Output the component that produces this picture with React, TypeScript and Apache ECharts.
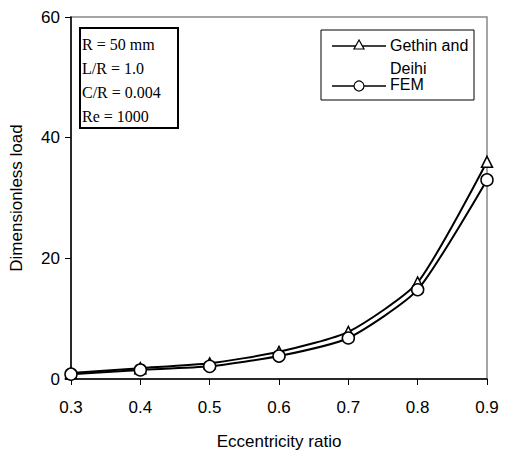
import React, { useEffect, useRef } from "react";
import * as echarts from "echarts";

const categories = ["0.3", "0.4", "0.5", "0.6", "0.7", "0.8", "0.9"];
const gethinValues = [1.0, 1.8, 2.6, 4.5, 7.8, 16.0, 36.0];
const femValues = [0.8, 1.5, 2.1, 3.8, 6.8, 14.8, 33.0];
const yTicks = [0, 20, 40, 60];
const infoLines = ["R = 50 mm", "L/R = 1.0", "C/R = 0.004", "Re = 1000"];

export default function App() {
  const ref = useRef<HTMLDivElement>(null);
  useEffect(() => {
    if (!ref.current) return;
    const chart = echarts.init(ref.current, null, { renderer: "svg" });
    const sans = "Liberation Sans, Arial, sans-serif";
    const serif = "Liberation Serif, Times New Roman, serif";
    chart.setOption({
      animation: false,
      backgroundColor: "#fff",
      grid: {
        left: 67,
        right: 44,
        top: 17,
        bottom: 74,
        show: true,
        borderColor: "#888",
        borderWidth: 1.5,
      },
      xAxis: {
        type: "category",
        data: categories,
        boundaryGap: false,
        name: "Eccentricity ratio",
        nameLocation: "middle",
        nameGap: 54,
        nameTextStyle: { fontFamily: sans, fontSize: 17, color: "#000" },
        axisLine: { lineStyle: { color: "#000", width: 1.5 } },
        axisTick: { show: true, length: 6, inside: false, lineStyle: { color: "#000" } },
        axisLabel: { fontFamily: sans, fontSize: 17, color: "#000", margin: 20 },
        splitLine: { show: false },
      },
      yAxis: {
        type: "value",
        min: yTicks[0],
        max: yTicks[yTicks.length - 1],
        interval: 20,
        name: "Dimensionless load",
        nameLocation: "middle",
        nameGap: 46,
        nameTextStyle: { fontFamily: sans, fontSize: 17, color: "#000" },
        axisLine: { show: true, lineStyle: { color: "#000", width: 1.5 } },
        axisTick: { show: true, length: 6, lineStyle: { color: "#000" } },
        axisLabel: { fontFamily: sans, fontSize: 17, color: "#000", margin: 11 },
        splitLine: { show: false },
      },
      series: [
        {
          name: "Gethin and Deihi",
          type: "line",
          data: gethinValues,
          smooth: 0.2,
          symbol: "triangle",
          symbolSize: 11,
          lineStyle: { color: "#000", width: 2 },
          itemStyle: { color: "#fff", borderColor: "#000", borderWidth: 1.5 },
        },
        {
          name: "FEM",
          type: "line",
          data: femValues,
          smooth: 0.2,
          symbol: "circle",
          symbolSize: 12,
          lineStyle: { color: "#000", width: 2 },
          itemStyle: { color: "#fff", borderColor: "#000", borderWidth: 1.5 },
        },
      ],
      graphic: [
        {
          type: "rect",
          shape: { x: 80, y: 28, width: 98, height: 100 },
          style: { fill: "#fff", stroke: "#000", lineWidth: 2 },
          z: 10,
        },
        ...infoLines.map((t, i) => ({
          type: "text",
          x: 82,
          y: 36 + i * 24,
          style: { text: t, font: `16px ${serif}`, fill: "#000" },
          z: 11,
        })),
        {
          type: "rect",
          shape: { x: 321, y: 30, width: 153, height: 70 },
          style: { fill: "#fff", stroke: "#000", lineWidth: 1 },
          z: 10,
        },
        {
          type: "line",
          shape: { x1: 332, y1: 46, x2: 386, y2: 46 },
          style: { stroke: "#000", lineWidth: 1.5 },
          z: 11,
        },
        {
          type: "polygon",
          shape: { points: [[359, 40], [354, 49], [364, 49]] },
          style: { fill: "#fff", stroke: "#000", lineWidth: 1.2 },
          z: 12,
        },
        {
          type: "text",
          x: 390,
          y: 37,
          style: { text: "Gethin and", font: `16px ${sans}`, fill: "#000" },
          z: 11,
        },
        {
          type: "text",
          x: 390,
          y: 60,
          style: { text: "Deihi", font: `16px ${sans}`, fill: "#000" },
          z: 11,
        },
        {
          type: "line",
          shape: { x1: 332, y1: 86, x2: 386, y2: 86 },
          style: { stroke: "#000", lineWidth: 1.5 },
          z: 11,
        },
        {
          type: "circle",
          shape: { cx: 359, cy: 86, r: 5 },
          style: { fill: "#fff", stroke: "#000", lineWidth: 1.2 },
          z: 12,
        },
        {
          type: "text",
          x: 390,
          y: 76,
          style: { text: "FEM", font: `16px ${sans}`, fill: "#000" },
          z: 11,
        },
      ],
    });
    return () => chart.dispose();
  }, []);
  return <div ref={ref} style={{ width: 531, height: 455, position: "absolute", left: 0, top: 0 }} />;
}
